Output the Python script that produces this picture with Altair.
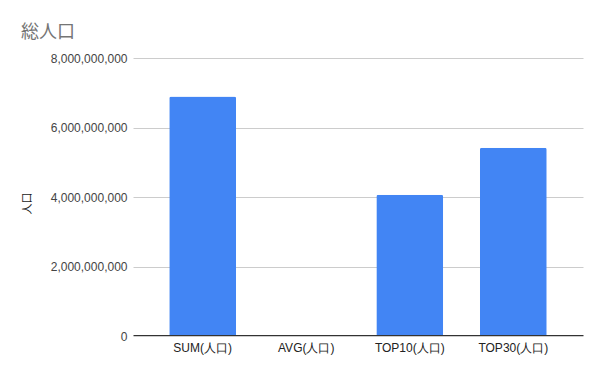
import altair as alt
import pandas as pd

categories = ["SUM(人口)", "AVG(人口)", "TOP10(人口)", "TOP30(人口)"]
values = [6890000000, 29000000, 4065000000, 5420000000]
y_ticks = [0, 2000000000, 4000000000, 6000000000, 8000000000]

df = pd.DataFrame({"category": categories, "value": values})

chart = alt.Chart(df).mark_bar(
    color="#4285F4", cornerRadiusTopLeft=2, cornerRadiusTopRight=2
).encode(
    x=alt.X(
        "category:N",
        sort=None,
        title=None,
        scale=alt.Scale(paddingInner=0.354, paddingOuter=0.35),
        axis=alt.Axis(
            labelAngle=0, ticks=False, domainColor="#333333", domainWidth=1,
            labelFont="Liberation Sans", labelFontSize=12, labelColor="#222222",
            labelPadding=7, zindex=1, offset=-1,
        ),
    ),
    y=alt.Y(
        "value:Q",
        title="人口",
        scale=alt.Scale(domain=[0, 8000000000], nice=False),
        axis=alt.Axis(
            values=y_ticks, format=",d", grid=True, gridColor="#cccccc",
            domain=False, ticks=False, labelFont="Liberation Sans",
            labelFontSize=12, labelColor="#444444", labelPadding=6,
            titleFont="Noto Sans CJK JP", titleFontSize=11, titleFontWeight="normal",
            titleColor="#222222", titleX=-106, titleY=145, titleAlign="center",
            titleBaseline="middle",
        ),
    ),
).properties(
    width=450,
    height=278,
    autosize=alt.AutoSizeParams(type="none"),
    padding={"left": 125, "top": 50, "right": 10, "bottom": 22},
    title=alt.TitleParams(
        "総人口", anchor="start", frame="group", font="Noto Sans CJK JP", fontSize=18,
        fontWeight="normal", color="#757575", dx=-112, dy=-6,
    ),
).configure_view(stroke=None)

chart.save("out.html", embed_options={"renderer": "svg", "actions": False})
